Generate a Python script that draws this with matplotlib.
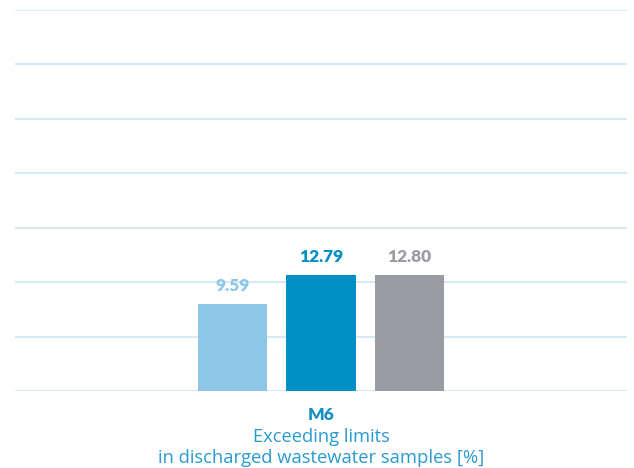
import matplotlib
matplotlib.use("Agg")
import matplotlib.pyplot as plt
import numpy as np

plt.rcParams['font.family'] = ['Lato', 'DejaVu Sans']

categories = ["M6"]
subtitle_lines = ["Exceeding limits", "in discharged wastewater samples [%]"]
series_names = ["Series 1", "Series 2", "Series 3"]
series_values = [[9.59], [12.79], [12.80]]
value_labels = [["9.59"], ["12.79"], ["12.80"]]
colors = ["#8DC6E6", "#0090C6", "#9A9CA3"]
label_weights = ["heavy", "heavy", "heavy"]
yticks = [0, 6, 12, 18, 24, 30, 36, 42]

W, H = 634, 468
fig = plt.figure(figsize=(W/100, H/100), dpi=100)
ax = fig.add_axes([15/W, (H-391)/H, 612/W, 381/H])

n = len(series_values)
step = 88/88.0
width = 69/88.0
x = np.arange(len(categories))
for i, (name, vals) in enumerate(zip(series_names, series_values)):
    xs = x + (i - (n-1)/2) * step
    bars = ax.bar(xs, vals, width=width, color=colors[i], label=name, zorder=3)
    for b, lab in zip(bars, value_labels[i]):
        ax.annotate(lab, (b.get_x() + b.get_width()/2, b.get_height()),
                    xytext=(0, 7), textcoords="offset points",
                    ha="center", va="bottom", fontsize=12.5,
                    fontweight=label_weights[i], color=colors[i])

ax.set_xlim(-3.477, 3.477)
ax.set_ylim(0, 42)
ax.set_yticks(yticks)
ax.yaxis.grid(True, color="#D6EAF5", linewidth=1.5, zorder=0)
ax.set_axisbelow(True)
ax.tick_params(axis="y", left=False, labelleft=False)
ax.tick_params(axis="x", bottom=False, pad=8)
ax.set_xticks(x)
ax.set_xticklabels(categories, fontsize=12.5, fontweight="heavy", color="#1A8FC4")
for s in ax.spines.values():
    s.set_visible(False)

cx = (15 + 612/2) / W
for line, base in zip(subtitle_lines, [442, 463]):
    fig.text(cx, (H - base)/H, line, ha="center", va="baseline",
             fontsize=13.2, color="#2A9AD0", family=['Open Sans', 'DejaVu Sans'])

fig.savefig("out.png", dpi=100)
